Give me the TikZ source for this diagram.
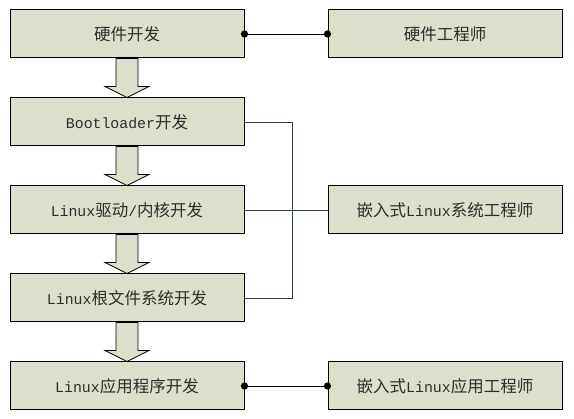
\documentclass[tikz,border=0pt]{standalone}
\usepackage{fontspec}
\setmainfont{Liberation Mono}[Scale=0.9]
\newfontfamily\cjk{Noto Sans CJK SC}
\usetikzlibrary{calc}
\definecolor{boxfill}{RGB}{221,222,203}
\definecolor{busblue}{RGB}{40,62,98}
\definecolor{txt}{RGB}{45,45,45}
\tikzset{
  box/.style={draw=black, line width=1pt, fill=boxfill, minimum width=234pt, minimum height=48pt,
    inner sep=0pt, text=txt, font=\fontsize{16.5}{19}\selectfont},
  flowarrow/.style={draw=black, line width=0.8pt, fill=boxfill},
  bus/.style={draw=busblue, line width=0.9pt},
  link/.style={draw=black, line width=0.9pt},
  dot/.style={fill=black}
}
\begin{document}
\begin{tikzpicture}[x=1pt,y=-1pt]
\useasboundingbox (0,0) rectangle (574,419);
\node[box] (hw)   at (127,34)  {{\cjk 硬件开发}};
\node[box] (boot) at (127,122) {Bootloader{\cjk 开发}};
\node[box] (drv)  at (127,210) {Linux{\cjk 驱动}/{\cjk 内核开发}};
\node[box] (root) at (127,298) {Linux{\cjk 根文件系统开发}};
\node[box] (app)  at (127,386) {Linux{\cjk 应用程序开发}};
\node[box] (hwe)  at (445,34)  {{\cjk 硬件工程师}};
\node[box] (syse) at (445,210) {{\cjk 嵌入式}Linux{\cjk 系统工程师}};
\node[box] (appe) at (445,386) {{\cjk 嵌入式}Linux{\cjk 应用工程师}};
% flow arrows
\foreach \a/\b in {hw/boot, boot/drv, drv/root, root/app}{
  \draw[flowarrow] ($(\a.south)+(-11,0)$) -- ($(\a.south)+(11,0)$) -- ($(\a.south)+(11,28)$)
    -- ($(\a.south)+(22,28)$) -- (\b.north) -- ($(\a.south)+(-22,28)$) -- ($(\a.south)+(-11,28)$) -- cycle;
}
% links with dots
\draw[link] (hw.east) -- (hwe.west);
\fill[dot] (hw.east) circle (3.6);
\fill[dot] (hwe.west) circle (3.6);
\draw[link] (app.east) -- (appe.west);
\fill[dot] (app.east) circle (3.6);
\fill[dot] (appe.west) circle (3.6);
% bus
\coordinate (busx) at ($(boot.east)+(48,0)$);
\draw[bus] (boot.east) -- (busx) |- (root.east);
\draw[bus] (drv.east) -- (syse.west);
\end{tikzpicture}
\end{document}
